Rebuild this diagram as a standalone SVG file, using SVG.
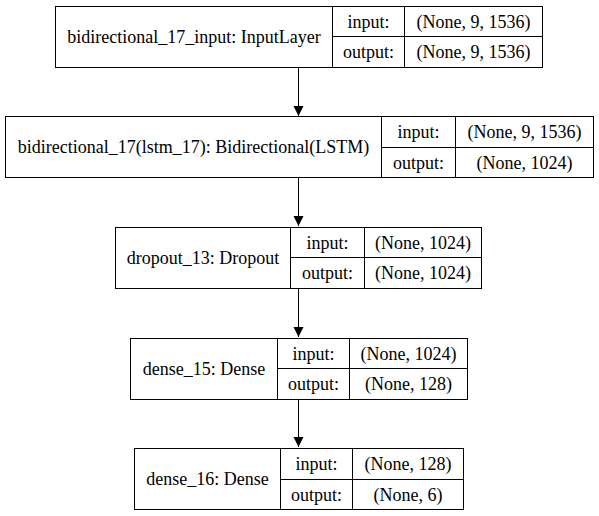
<svg xmlns="http://www.w3.org/2000/svg" width="599" height="516" viewBox="0 0 599 516" font-family="'Liberation Serif', 'Times New Roman', serif">
<defs>
<style>
.b { fill: none; stroke: #000; stroke-width: 1; }
text { font-family: 'Liberation Serif', 'Times New Roman', serif; font-size: 18px; fill: #000; text-anchor: middle; dominant-baseline: central; }
.edge { stroke: #000; stroke-width: 1; fill: none; }
</style>
<marker id="arr" markerWidth="10" markerHeight="12" refX="10" refY="5" orient="auto" markerUnits="userSpaceOnUse" viewBox="0 0 10 10">
<path d="M0,0 L10,5 L0,10 Z" fill="#000"/>
</marker>
</defs>
<rect x="0" y="0" width="599" height="516" fill="#fff"/>
<g id="edges">
<line class="edge" x1="298.5" y1="67" x2="298.5" y2="116" marker-end="url(#arr)"/>
<line class="edge" x1="298.5" y1="177" x2="298.5" y2="226" marker-end="url(#arr)"/>
<line class="edge" x1="298.5" y1="288" x2="298.5" y2="337" marker-end="url(#arr)"/>
<line class="edge" x1="298.5" y1="399" x2="298.5" y2="447" marker-end="url(#arr)"/>
</g>
<g id="node1">
<rect class="b" x="55.5" y="6.5" width="487" height="61"/>
<line class="b" x1="332.5" y1="6.5" x2="332.5" y2="67.5"/>
<line class="b" x1="404.5" y1="6.5" x2="404.5" y2="67.5"/>
<line class="b" x1="332.5" y1="36.5" x2="542.5" y2="36.5"/>
<text x="194" y="37">bidirectional_17_input: InputLayer</text>
<text x="368.5" y="21.5">input:</text>
<text x="368.5" y="52">output:</text>
<text x="473.5" y="21.5">(None, 9, 1536)</text>
<text x="473.5" y="52">(None, 9, 1536)</text>
</g>
<g id="node2">
<rect class="b" x="5.5" y="116.5" width="588" height="61"/>
<line class="b" x1="381.5" y1="116.5" x2="381.5" y2="177.5"/>
<line class="b" x1="455.5" y1="116.5" x2="455.5" y2="177.5"/>
<line class="b" x1="381.5" y1="147.5" x2="593.5" y2="147.5"/>
<text x="193.5" y="147">bidirectional_17(lstm_17): Bidirectional(LSTM)</text>
<text x="418.5" y="132">input:</text>
<text x="418.5" y="162.5">output:</text>
<text x="524.5" y="132">(None, 9, 1536)</text>
<text x="524.5" y="162.5">(None, 1024)</text>
</g>
<g id="node3">
<rect class="b" x="115.5" y="227.5" width="366" height="61"/>
<line class="b" x1="290.5" y1="227.5" x2="290.5" y2="288.5"/>
<line class="b" x1="364.5" y1="227.5" x2="364.5" y2="288.5"/>
<line class="b" x1="290.5" y1="257.5" x2="481.5" y2="257.5"/>
<text x="203" y="258">dropout_13: Dropout</text>
<text x="327.5" y="242.5">input:</text>
<text x="327.5" y="273">output:</text>
<text x="423" y="242.5">(None, 1024)</text>
<text x="423" y="273">(None, 1024)</text>
</g>
<g id="node4">
<rect class="b" x="130.5" y="338.5" width="337" height="61"/>
<line class="b" x1="277.5" y1="338.5" x2="277.5" y2="399.5"/>
<line class="b" x1="349.5" y1="338.5" x2="349.5" y2="399.5"/>
<line class="b" x1="277.5" y1="368.5" x2="467.5" y2="368.5"/>
<text x="204" y="369">dense_15: Dense</text>
<text x="313.5" y="353.5">input:</text>
<text x="313.5" y="384">output:</text>
<text x="408.5" y="353.5">(None, 1024)</text>
<text x="408.5" y="384">(None, 128)</text>
</g>
<g id="node5">
<rect class="b" x="134.5" y="448.5" width="329" height="61"/>
<line class="b" x1="280.5" y1="448.5" x2="280.5" y2="509.5"/>
<line class="b" x1="352.5" y1="448.5" x2="352.5" y2="509.5"/>
<line class="b" x1="280.5" y1="479.5" x2="463.5" y2="479.5"/>
<text x="207.5" y="479">dense_16: Dense</text>
<text x="316.5" y="464">input:</text>
<text x="316.5" y="494.5">output:</text>
<text x="408" y="464">(None, 128)</text>
<text x="408" y="494.5">(None, 6)</text>
</g>
</svg>
